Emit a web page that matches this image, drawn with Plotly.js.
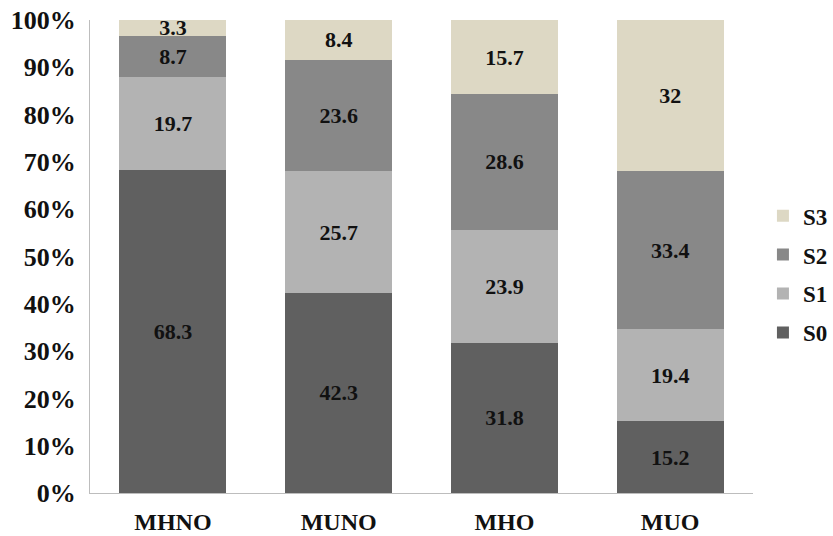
<!DOCTYPE html>
<html>
<head>
<meta charset="utf-8">
<script src="https://cdn.plot.ly/plotly-3.0.1.min.js"></script>
<style>
  html, body { margin: 0; padding: 0; background: #ffffff; }
  #chart { width: 833px; height: 536px; }
</style>
</head>
<body>
<div id="chart"></div>
<script>
// Groups along the x axis
const categories = ['MHNO', 'MUNO', 'MHO', 'MUO'];

// Share of each state per group (%), stacked bottom to top
const s0 = [68.3, 42.3, 31.8, 15.2];
const s1 = [19.7, 25.7, 23.9, 19.4];
const s2 = [8.7, 23.6, 28.6, 33.4];
const s3 = [3.3, 8.4, 15.7, 32];

const seriesNames = ['S0', 'S1', 'S2', 'S3'];
const seriesValues = [s0, s1, s2, s3];
const seriesColors = ['#606060', '#b3b3b3', '#888888', '#ddd8c4'];

const yTickValues = [0, 10, 20, 30, 40, 50, 60, 70, 80, 90, 100];
const yTickLabels = ['0%', '10%', '20%', '30%', '40%', '50%', '60%', '70%', '80%', '90%', '100%'];

const serif = '"Liberation Serif", "Times New Roman", Times, serif';

// Legend lists the top of the stack first (S3 ... S0)
const traces = seriesNames.map((name, i) => ({
  type: 'bar',
  name: name,
  x: categories,
  y: seriesValues[i],
  text: seriesValues[i].map(v => String(v)),
  texttemplate: '%{text}',
  textposition: 'inside',
  insidetextanchor: 'middle',
  textangle: 0,
  constraintext: 'none',
  textfont: { family: serif, size: 22, color: '#111111', weight: 'bold' },
  marker: { color: seriesColors[i], line: { width: 0 } },
  legendgroup: name,
  legendrank: seriesNames.length - i,
  hoverinfo: 'x+y+name'
}));

const layout = {
  width: 833,
  height: 536,
  margin: { l: 90, r: 80, t: 20, b: 43, autoexpand: false },
  paper_bgcolor: '#ffffff',
  plot_bgcolor: '#ffffff',
  barmode: 'stack',
  bargap: 0.355,
  font: { family: serif, color: '#111111' },
  xaxis: {
    type: 'category',
    showgrid: false,
    zeroline: false,
    showline: true,
    linecolor: '#bdbdbd',
    linewidth: 1,
    ticks: '',
    ticklabelstandoff: 7,
    tickfont: { family: serif, size: 24, color: '#111111', weight: 'bold' }
  },
  yaxis: {
    range: [0, 100],
    tickvals: yTickValues,
    ticktext: yTickLabels,
    showgrid: false,
    zeroline: false,
    showline: true,
    linecolor: '#bdbdbd',
    linewidth: 1,
    ticks: '',
    ticklabelstandoff: 8,
    tickfont: { family: serif, size: 26, color: '#111111', weight: 'bold' }
  },
  legend: {
    x: 1.015,
    xanchor: 'left',
    y: 0.4625,
    yanchor: 'middle',
    traceorder: 'grouped',
    tracegroupgap: 6,
    font: { family: serif, size: 23, color: '#111111', weight: 'bold' },
    itemclick: false,
    bgcolor: 'rgba(0,0,0,0)'
  },
  showlegend: true
};

Plotly.newPlot('chart', traces, layout, { displayModeBar: false, staticPlot: true });
</script>
</body>
</html>
